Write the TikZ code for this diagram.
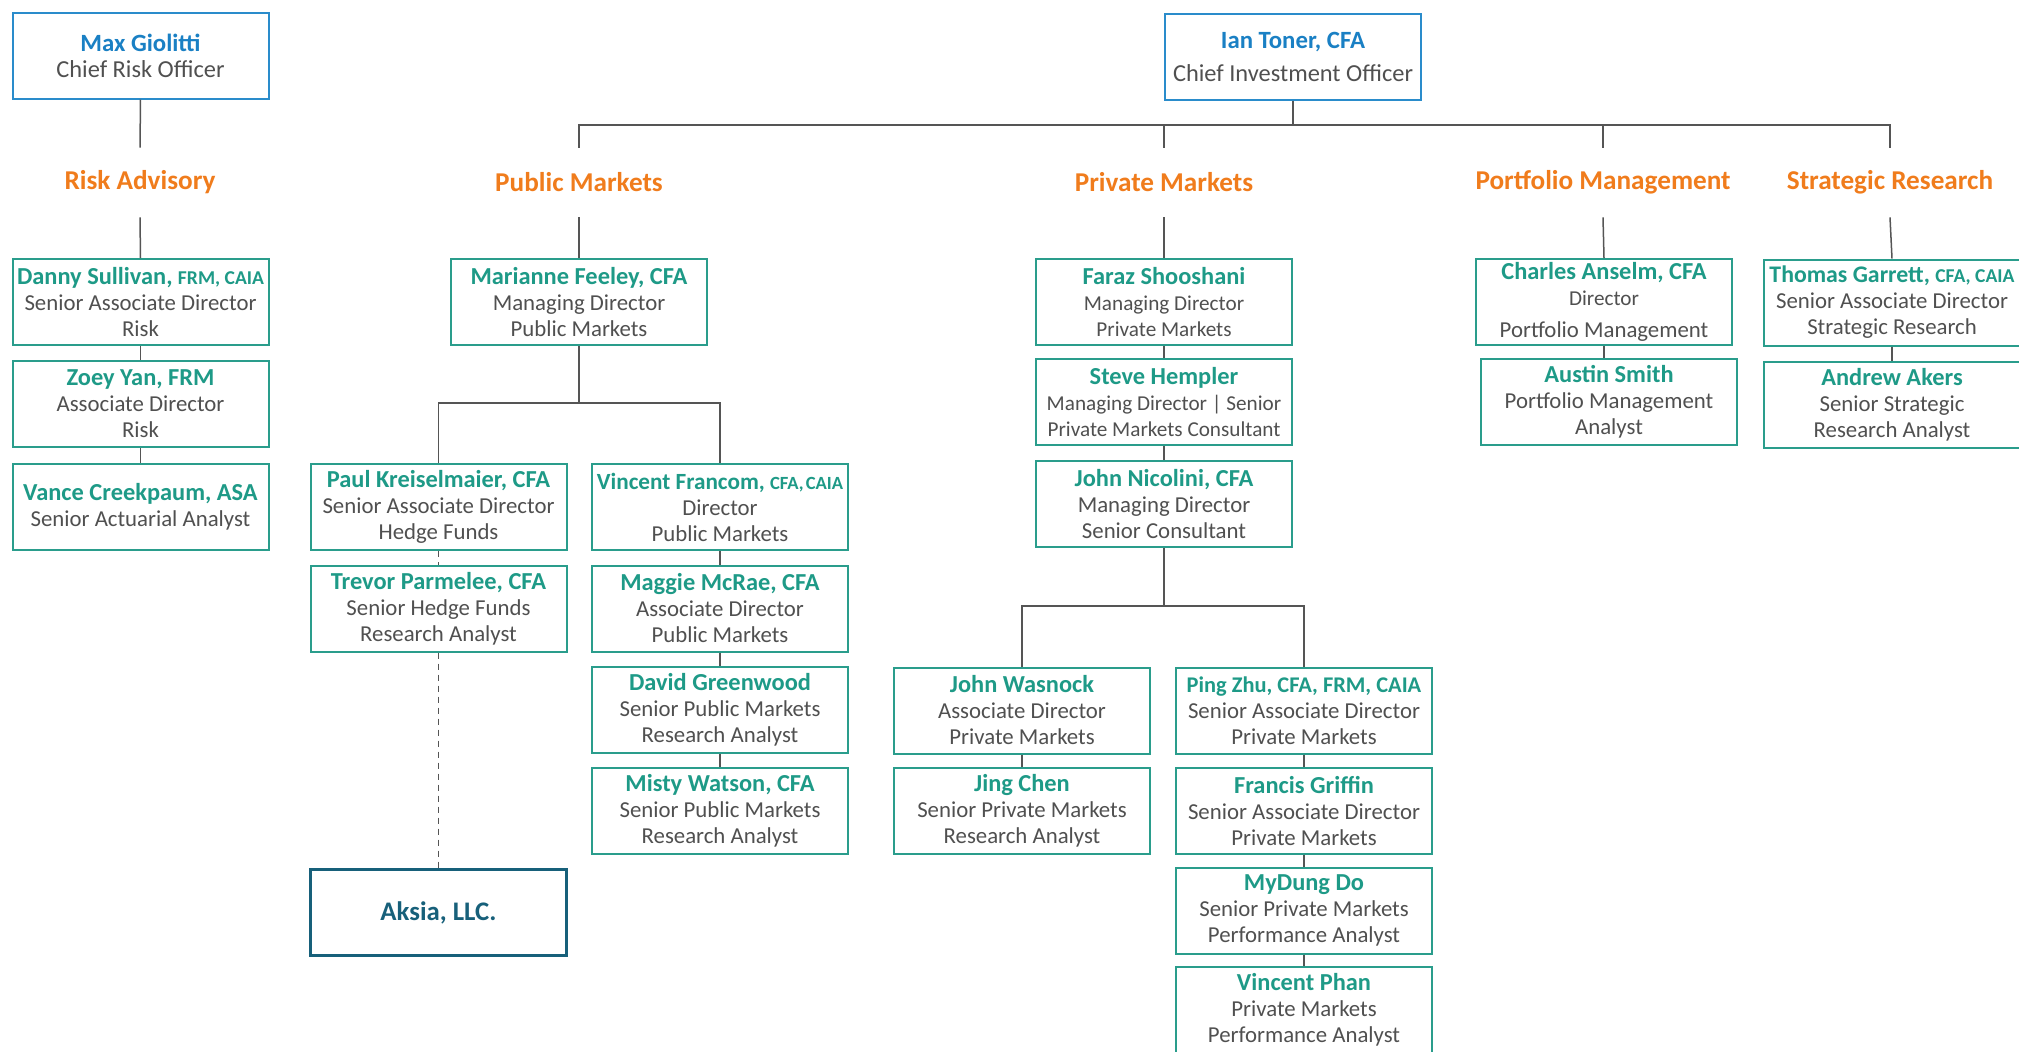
\documentclass[tikz,border=0pt]{standalone}
\usepackage{fontspec}
\setmainfont{Carlito}
\usetikzlibrary{calc}

\definecolor{tealbox}{HTML}{2A9D8C}
\definecolor{tealname}{HTML}{1E9A87}
\definecolor{bluebox}{HTML}{2A8CCB}
\definecolor{bluename}{HTML}{1A80C4}
\definecolor{orangehd}{HTML}{F07C1C}
\definecolor{greytext}{HTML}{505050}
\definecolor{linegrey}{HTML}{555555}
\definecolor{aksiablue}{HTML}{17607A}

% name line of a staff box, and its smaller credential suffix
\newcommand{\pname}[1]{{\fontsize{12.2}{13}\selectfont\bfseries\color{tealname}#1}}
\newcommand{\cred}[1]{{\fontsize{9.8}{13}\selectfont #1}}
\newcommand{\cname}[1]{{\fontsize{12.4}{13}\selectfont\bfseries\color{bluename}#1}}
\newcommand{\smalltitle}{\fontsize{10.6}{13}\selectfont}
\newcommand{\chieftitle}{\fontsize{12.2}{13}\selectfont}

\tikzset{
  person/.style={draw=tealbox, line width=1pt, fill=white,
    minimum width=128pt, minimum height=43pt, inner sep=0pt,
    align=center, font=\fontsize{11.4}{13}\selectfont, text=greytext},
  chief/.style={person, draw=bluebox},
  firm/.style={person, draw=aksiablue, line width=1.3pt,
    font=\fontsize{13.4}{15}\selectfont\bfseries, text=aksiablue},
  dept/.style={text=orangehd, font=\fontsize{13.6}{15}\selectfont\bfseries,
    minimum height=34.5pt, inner sep=0pt},
  link/.style={draw=linegrey, line width=0.75pt},
  dotlink/.style={link, dash pattern=on 3pt off 2.5pt}
}

\begin{document}
\begin{tikzpicture}[x=0.5pt,y=-0.5pt]
\useasboundingbox (0,0) rectangle (2019,1051);
\fill[white] (0,0) rectangle (2019,1051);
\clip (0,0) rectangle (2019,1051);

% chiefs
\node[chief] (max) at (140.5,55.5) {\cname{Max Giolitti}\\{\chieftitle Chief Risk Officer}};
\node[chief] (ian) at (1293,56.5) {\cname{Ian Toner, CFA}\\[3.5pt]{\chieftitle Chief Investment Officer}};
\coordinate (bus) at (1293,125);

% departments
\node[dept] (hrisk)  at (140,182.5)  {Risk Advisory};
\node[dept] (hpub)   at (579,182.5)  {Public Markets};
\node[dept] (hpriv)  at (1164,182.5) {Private Markets};
\node[dept] (hport)  at (1603,182.5) {Portfolio Management};
\node[dept] (hstrat) at (1890,182.5) {Strategic Research};

% risk advisory
\node[person] (danny) at (140.5,302) {\pname{Danny Sullivan, \cred{FRM, CAIA}}\\Senior Associate Director\\Risk};
\node[person] (zoey)  at (140.5,404) {\pname{Zoey Yan, FRM}\\Associate Director\\Risk};
\node[person] (vance) at (140.5,507) {\pname{Vance Creekpaum, ASA}\\Senior Actuarial Analyst};

% public markets
\node[person] (mar)    at (579,302)   {\pname{Marianne Feeley, CFA}\\Managing Director\\Public Markets};
\node[person] (paul)   at (438.5,507) {\pname{Paul Kreiselmaier, CFA}\\Senior Associate Director\\Hedge Funds};
\node[person] (trevor) at (438.5,608.5) {\pname{Trevor Parmelee, CFA}\\Senior Hedge Funds\\Research Analyst};
\node[firm]   (aksia)  at (438.5,912.5) {Aksia, LLC.};
\node[person] (vfr)    at (720,507)   {\pname{\fontsize{11.6}{13}\selectfont Vincent Francom, {\fontsize{9.3}{13}\selectfont CFA,\kern1pt CAIA}}\\Director\\Public Markets};
\node[person] (maggie) at (720,608.5) {\pname{Maggie McRae, CFA}\\Associate Director\\Public Markets};
\node[person] (david)  at (720,710)   {\pname{David Greenwood}\\Senior Public Markets\\Research Analyst};
\node[person] (misty)  at (720,810.5) {\pname{Misty Watson, CFA}\\Senior Public Markets\\Research Analyst};
\coordinate (pubsplit) at (579,403);

% private markets
\node[person] (faraz)  at (1164,302) {\pname{Faraz Shooshani}\\{\smalltitle Managing Director}\\{\smalltitle Private Markets}};
\node[person] (steve)  at (1164,402) {\pname{Steve Hempler}\\{\smalltitle Managing Director | Senior}\\{\smalltitle Private Markets Consultant}};
\node[person] (johnn)  at (1164,504) {\pname{John Nicolini, CFA}\\Managing Director\\Senior Consultant};
\node[person] (johnw)  at (1022,710.5) {\pname{John Wasnock}\\Associate Director\\Private Markets};
\node[person] (jing)   at (1022,810.5) {\pname{Jing Chen}\\Senior Private Markets\\Research Analyst};
\node[person] (ping)   at (1304,710.5) {\pname{\fontsize{11.2}{13}\selectfont Ping Zhu, CFA, FRM, CAIA}\\Senior Associate Director\\Private Markets};
\node[person] (francis) at (1304,810.5) {\pname{Francis Griffin}\\Senior Associate Director\\Private Markets};
\node[person] (mydung) at (1304,910.5) {\pname{MyDung Do}\\Senior Private Markets\\Performance Analyst};
\node[person] (vphan)  at (1304,1010) {\pname{Vincent Phan}\\Private Markets\\Performance Analyst};
\coordinate (privsplit) at (1164,606);

% portfolio management
\node[person] (charles) at (1604,302) {\pname{Charles Anselm, CFA}\\{\smalltitle Director}\\[3pt]Portfolio Management};
\node[person] (austin)  at (1609,402) {\pname{Austin Smith}\\Portfolio Management\\Analyst};

% strategic research
\node[person] (thomas) at (1892,302.5) {\pname{\fontsize{11.9}{13}\selectfont Thomas Garrett, \cred{CFA, CAIA}}\\Senior Associate Director\\Strategic Research};
\node[person] (andrew) at (1892,404.5) {\pname{Andrew Akers}\\Senior Strategic\\Research Analyst};

% reporting lines
\draw[link] (max.south) -- (hrisk.north);
\draw[link] (ian.south) -- (bus);
\draw[link] (hpub.north) |- (bus);
\draw[link] (hpriv.north) |- (bus);
\draw[link] (hport.north) |- (bus);
\draw[link] (hstrat.north) |- (bus);

\draw[link] (hrisk.south) -- (danny.north);
\draw[link] (danny.south) -- (zoey.north);
\draw[link] (zoey.south) -- (vance.north);

\draw[link] (hpub.south) -- (mar.north);
\draw[link] (mar.south) -- (pubsplit);
\draw[link] (paul.north) |- (pubsplit) -| (vfr.north);
\draw[dotlink] (paul.south) -- (trevor.north);
\draw[dotlink] (trevor.south) -- (aksia.north);
\draw[link] (vfr.south) -- (maggie.north);
\draw[link] (maggie.south) -- (david.north);
\draw[link] (david.south) -- (misty.north);

\draw[link] (hpriv.south) -- (faraz.north);
\draw[link] (faraz.south) -- (steve.north);
\draw[link] (steve.south) -- (johnn.north);
\draw[link] (johnn.south) -- (privsplit);
\draw[link] (johnw.north) |- (privsplit) -| (ping.north);
\draw[link] (johnw.south) -- (jing.north);
\draw[link] (ping.south) -- (francis.north);
\draw[link] (francis.south) -- (mydung.north);
\draw[link] (mydung.south) -- (vphan.north);

\draw[link] (hport.south) -- (charles.north);
\draw[link] (charles.south) -- (charles.south |- austin.north);

\draw[link] (hstrat.south) -- (thomas.north);
\draw[link] (thomas.south) -- (andrew.north);
\end{tikzpicture}
\end{document}
